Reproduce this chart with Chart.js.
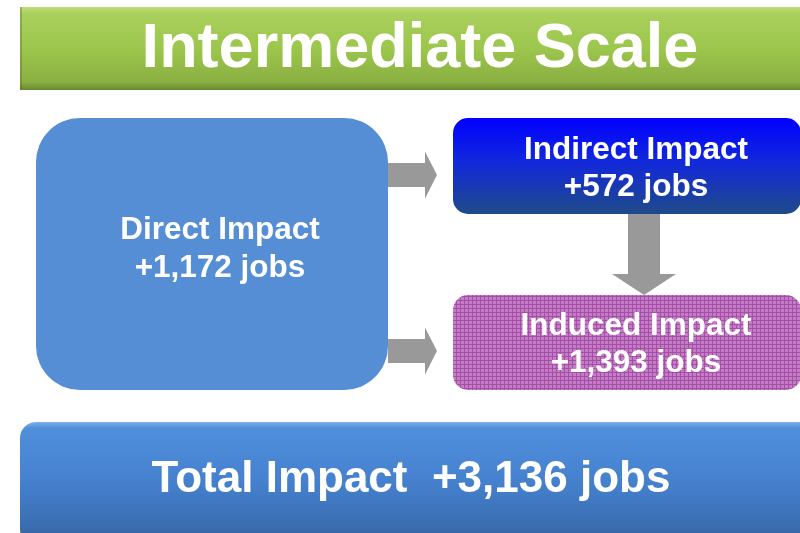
<!DOCTYPE html>
<html>
<head>
<meta charset="utf-8">
<script src="https://cdn.jsdelivr.net/npm/chart.js@4.4.0/dist/chart.umd.min.js"></script>
<style>
  html, body { margin: 0; padding: 0; background: #ffffff; }
  #wrap { width: 800px; height: 533px; }
</style>
</head>
<body>
<div id="wrap"><canvas id="flow" width="800" height="533"></canvas></div>
<script>
// values
const chartTitle = "Intermediate Scale";
const impactNames = ["Direct Impact", "Indirect Impact", "Induced Impact"];
const impactJobs = [1172, 572, 1393];
const totalName = "Total Impact";
const totalJobs = 3136;

// layout in scale units (x 0..800, y 0..533 from top)
const layout = {
  title:    { x0: 20,  x1: 810, y0: 7,   y1: 90,  r: 0 },
  direct:   { x0: 36,  x1: 388, y0: 118, y1: 390, r: 44 },
  indirect: { x0: 453, x1: 801, y0: 118, y1: 214, r: 15 },
  induced:  { x0: 453, x1: 801, y0: 295, y1: 390, r: 15 },
  total:    { x0: 20,  x1: 815, y0: 422, y1: 545, r: 16 }
};

const FONT = '"Liberation Sans", Arial, sans-serif';

function jobsText(v) {
  return "+" + v.toLocaleString("en-US") + " jobs";
}

function rrect(ctx, x0, y0, x1, y1, r) {
  ctx.beginPath();
  ctx.moveTo(x0 + r, y0);
  ctx.lineTo(x1 - r, y0);
  ctx.arcTo(x1, y0, x1, y0 + r, r);
  ctx.lineTo(x1, y1 - r);
  ctx.arcTo(x1, y1, x1 - r, y1, r);
  ctx.lineTo(x0 + r, y1);
  ctx.arcTo(x0, y1, x0, y1 - r, r);
  ctx.lineTo(x0, y0 + r);
  ctx.arcTo(x0, y0, x0 + r, y0, r);
  ctx.closePath();
}

function makeDots(ctx) {
  const c = document.createElement("canvas");
  c.width = 4; c.height = 4;
  const p = c.getContext("2d");
  p.fillStyle = "#c47cc6";
  p.fillRect(0, 0, 4, 4);
  p.fillStyle = "#a44fa6";
  p.fillRect(0, 0, 4, 1);
  p.fillRect(0, 0, 1, 4);
  return ctx.createPattern(c, "repeat");
}

function label(ctx, text, cx, base, size) {
  ctx.font = "bold " + size + "px " + FONT;
  ctx.fillStyle = "#ffffff";
  ctx.textAlign = "center";
  ctx.textBaseline = "alphabetic";
  ctx.fillText(text, cx, base);
}

// grey block arrows
function arrowRight(ctx, x0, xHead, xTip, yMid, shaftH, headH) {
  ctx.beginPath();
  ctx.moveTo(x0, yMid - shaftH / 2);
  ctx.lineTo(xHead, yMid - shaftH / 2);
  ctx.lineTo(xHead, yMid - headH / 2);
  ctx.lineTo(xTip, yMid);
  ctx.lineTo(xHead, yMid + headH / 2);
  ctx.lineTo(xHead, yMid + shaftH / 2);
  ctx.lineTo(x0, yMid + shaftH / 2);
  ctx.closePath();
  ctx.fillStyle = "#999999";
  ctx.fill();
}

function arrowDown(ctx, xMid, y0, yHead, yTip, shaftW, headW) {
  ctx.beginPath();
  ctx.moveTo(xMid - shaftW / 2, y0);
  ctx.lineTo(xMid + shaftW / 2, y0);
  ctx.lineTo(xMid + shaftW / 2, yHead);
  ctx.lineTo(xMid + headW / 2, yHead);
  ctx.lineTo(xMid, yTip);
  ctx.lineTo(xMid - headW / 2, yHead);
  ctx.lineTo(xMid - shaftW / 2, yHead);
  ctx.closePath();
  ctx.fillStyle = "#999999";
  ctx.fill();
}

const flowPlugin = {
  id: "flowDiagram",
  afterDraw(chart) {
    const ctx = chart.ctx;
    const sx = chart.scales.x, sy = chart.scales.y;
    const X = v => sx.getPixelForValue(v);
    const Y = v => sy.getPixelForValue(v);
    const box = b => ({ x0: X(b.x0), x1: X(b.x1), y0: Y(b.y0), y1: Y(b.y1), r: b.r });

    ctx.save();

    // title bar
    let b = box(layout.title);
    let g = ctx.createLinearGradient(0, b.y0, 0, b.y1);
    g.addColorStop(0, "#bcdd78");
    g.addColorStop(0.08, "#a9d05c");
    g.addColorStop(0.5, "#9cc64c");
    g.addColorStop(0.9, "#8bb042");
    g.addColorStop(1, "#6a882e");
    ctx.fillStyle = g;
    ctx.fillRect(b.x0, b.y0, b.x1 - b.x0, b.y1 - b.y0);
    ctx.fillStyle = "rgba(80,110,30,0.35)";
    ctx.fillRect(b.x0, b.y0, 2, b.y1 - b.y0);
    label(ctx, chartTitle, X(420), Y(67), 63);

    // direct
    b = box(layout.direct);
    rrect(ctx, b.x0, b.y0, b.x1, b.y1, b.r);
    ctx.fillStyle = "#558ed5";
    ctx.fill();
    label(ctx, impactNames[0], X(220), Y(239), 31.5);
    label(ctx, jobsText(impactJobs[0]), X(220), Y(277), 31.5);

    // indirect
    b = box(layout.indirect);
    rrect(ctx, b.x0, b.y0, b.x1, b.y1, b.r);
    g = ctx.createLinearGradient(0, b.y0, 0, b.y1);
    g.addColorStop(0, "#0000ff");
    g.addColorStop(0.45, "#1228dc");
    g.addColorStop(1, "#1f4b88");
    ctx.fillStyle = g;
    ctx.fill();
    label(ctx, impactNames[1], X(636), Y(159), 31.5);
    label(ctx, jobsText(impactJobs[1]), X(636), Y(196), 31.5);

    // induced
    b = box(layout.induced);
    rrect(ctx, b.x0, b.y0, b.x1, b.y1, b.r);
    ctx.fillStyle = makeDots(ctx);
    ctx.fill();
    label(ctx, impactNames[2], X(636), Y(335), 31.5);
    label(ctx, jobsText(impactJobs[2]), X(636), Y(372), 31.5);

    // arrows
    arrowRight(ctx, X(388), X(425), X(437), Y(175), Y(187) - Y(163), Y(198) - Y(151));
    arrowRight(ctx, X(388), X(425), X(437), Y(351), Y(363) - Y(339), Y(374) - Y(327));
    arrowDown(ctx, X(644), Y(214), Y(274), Y(295), X(660) - X(628), X(676) - X(612));

    // total
    b = box(layout.total);
    rrect(ctx, b.x0, b.y0, b.x1, b.y1, b.r);
    g = ctx.createLinearGradient(0, b.y0, 0, b.y1);
    g.addColorStop(0, "#7fb0ea");
    g.addColorStop(0.05, "#4f8fdc");
    g.addColorStop(0.5, "#4580cd");
    g.addColorStop(0.85, "#3a6db0");
    g.addColorStop(1, "#2f5a94");
    ctx.fillStyle = g;
    ctx.fill();
    label(ctx, totalName + "  " + jobsText(totalJobs), X(411), Y(492), 44);

    ctx.restore();
  }
};

new Chart(document.getElementById("flow"), {
  type: "scatter",
  data: { datasets: [] },
  options: {
    responsive: false,
    animation: false,
    events: [],
    layout: { padding: 0 },
    plugins: { legend: { display: false }, tooltip: { enabled: false }, title: { display: false } },
    scales: {
      x: { type: "linear", min: 0, max: 800, display: false },
      y: { type: "linear", min: 0, max: 533, reverse: true, display: false }
    }
  },
  plugins: [flowPlugin]
});
</script>
</body>
</html>
